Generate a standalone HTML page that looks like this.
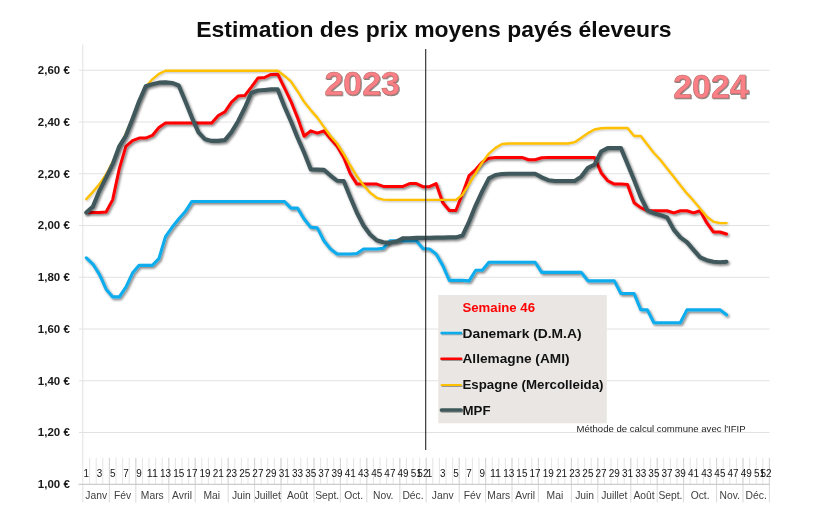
<!DOCTYPE html>
<html lang="fr"><head><meta charset="utf-8"><title>Estimation des prix moyens payés éleveurs</title>
<style>
html,body{margin:0;padding:0;background:#fff;}
body{width:820px;height:528px;overflow:hidden;font-family:"Liberation Sans",sans-serif;}
svg{display:block}
text{font-family:"Liberation Sans",sans-serif;}
.yl{font-size:11.3px;font-weight:bold;fill:#1a1a1a;text-anchor:end}
.wk{font-size:10.1px;fill:#161616;text-anchor:middle}
.mo{font-size:10.3px;fill:#404040;text-anchor:middle}
.lg{font-size:13px;font-weight:bold;fill:#111}
</style></head><body>
<svg width="820" height="528" viewBox="0 0 820 528">
<defs>
<filter id="sh" x="-5%" y="-5%" width="110%" height="115%"><feDropShadow dx="1.4" dy="1.6" stdDeviation="1.1" flood-color="#000" flood-opacity="0.5"/></filter>
<filter id="sh3" filterUnits="userSpaceOnUse" x="430" y="290" width="60" height="140"><feDropShadow dx="0.8" dy="1.0" stdDeviation="0.7" flood-color="#000" flood-opacity="0.35"/></filter>
<filter id="sh2" x="-5%" y="-5%" width="110%" height="115%"><feDropShadow dx="0.8" dy="1.0" stdDeviation="0.8" flood-color="#000" flood-opacity="0.25"/></filter>
<filter id="tsh" x="-10%" y="-10%" width="120%" height="130%"><feDropShadow dx="0.8" dy="1.0" stdDeviation="0.7" flood-color="#000" flood-opacity="0.55"/></filter>
</defs>
<rect width="820" height="528" fill="#fff"/>

<g stroke="#e2e2e2" stroke-width="1" fill="none">
<line x1="79" y1="484.25" x2="769.5" y2="484.25"/>
<line x1="79" y1="432.50" x2="769.5" y2="432.50"/>
<line x1="79" y1="380.75" x2="769.5" y2="380.75"/>
<line x1="79" y1="329.00" x2="769.5" y2="329.00"/>
<line x1="79" y1="277.25" x2="769.5" y2="277.25"/>
<line x1="79" y1="225.50" x2="769.5" y2="225.50"/>
<line x1="79" y1="173.75" x2="769.5" y2="173.75"/>
<line x1="79" y1="122.00" x2="769.5" y2="122.00"/>
<line x1="79" y1="70.25" x2="769.5" y2="70.25"/>
<line x1="82.8" y1="44.5" x2="82.8" y2="502.5"/>
</g>
<g stroke="#dadada" stroke-width="0.7">
<line x1="89.60" y1="457.8" x2="89.60" y2="484"/>
<line x1="96.20" y1="457.8" x2="96.20" y2="484"/>
<line x1="102.80" y1="457.8" x2="102.80" y2="484"/>
<line x1="109.40" y1="457.8" x2="109.40" y2="484"/>
<line x1="116.00" y1="457.8" x2="116.00" y2="484"/>
<line x1="122.60" y1="457.8" x2="122.60" y2="484"/>
<line x1="129.20" y1="457.8" x2="129.20" y2="484"/>
<line x1="135.80" y1="457.8" x2="135.80" y2="484"/>
<line x1="142.40" y1="457.8" x2="142.40" y2="484"/>
<line x1="149.00" y1="457.8" x2="149.00" y2="484"/>
<line x1="155.60" y1="457.8" x2="155.60" y2="484"/>
<line x1="162.20" y1="457.8" x2="162.20" y2="484"/>
<line x1="168.80" y1="457.8" x2="168.80" y2="484"/>
<line x1="175.40" y1="457.8" x2="175.40" y2="484"/>
<line x1="182.00" y1="457.8" x2="182.00" y2="484"/>
<line x1="188.60" y1="457.8" x2="188.60" y2="484"/>
<line x1="195.20" y1="457.8" x2="195.20" y2="484"/>
<line x1="201.80" y1="457.8" x2="201.80" y2="484"/>
<line x1="208.40" y1="457.8" x2="208.40" y2="484"/>
<line x1="215.00" y1="457.8" x2="215.00" y2="484"/>
<line x1="221.60" y1="457.8" x2="221.60" y2="484"/>
<line x1="228.20" y1="457.8" x2="228.20" y2="484"/>
<line x1="234.80" y1="457.8" x2="234.80" y2="484"/>
<line x1="241.40" y1="457.8" x2="241.40" y2="484"/>
<line x1="248.00" y1="457.8" x2="248.00" y2="484"/>
<line x1="254.60" y1="457.8" x2="254.60" y2="484"/>
<line x1="261.20" y1="457.8" x2="261.20" y2="484"/>
<line x1="267.80" y1="457.8" x2="267.80" y2="484"/>
<line x1="274.40" y1="457.8" x2="274.40" y2="484"/>
<line x1="281.00" y1="457.8" x2="281.00" y2="484"/>
<line x1="287.60" y1="457.8" x2="287.60" y2="484"/>
<line x1="294.20" y1="457.8" x2="294.20" y2="484"/>
<line x1="300.80" y1="457.8" x2="300.80" y2="484"/>
<line x1="307.40" y1="457.8" x2="307.40" y2="484"/>
<line x1="314.00" y1="457.8" x2="314.00" y2="484"/>
<line x1="320.60" y1="457.8" x2="320.60" y2="484"/>
<line x1="327.20" y1="457.8" x2="327.20" y2="484"/>
<line x1="333.80" y1="457.8" x2="333.80" y2="484"/>
<line x1="340.40" y1="457.8" x2="340.40" y2="484"/>
<line x1="347.00" y1="457.8" x2="347.00" y2="484"/>
<line x1="353.60" y1="457.8" x2="353.60" y2="484"/>
<line x1="360.20" y1="457.8" x2="360.20" y2="484"/>
<line x1="366.80" y1="457.8" x2="366.80" y2="484"/>
<line x1="373.40" y1="457.8" x2="373.40" y2="484"/>
<line x1="380.00" y1="457.8" x2="380.00" y2="484"/>
<line x1="386.60" y1="457.8" x2="386.60" y2="484"/>
<line x1="393.20" y1="457.8" x2="393.20" y2="484"/>
<line x1="399.80" y1="457.8" x2="399.80" y2="484"/>
<line x1="406.40" y1="457.8" x2="406.40" y2="484"/>
<line x1="413.00" y1="457.8" x2="413.00" y2="484"/>
<line x1="419.60" y1="457.8" x2="419.60" y2="484"/>
<line x1="426.20" y1="457.8" x2="426.20" y2="484"/>
<line x1="432.80" y1="457.8" x2="432.80" y2="484"/>
<line x1="439.40" y1="457.8" x2="439.40" y2="484"/>
<line x1="446.00" y1="457.8" x2="446.00" y2="484"/>
<line x1="452.60" y1="457.8" x2="452.60" y2="484"/>
<line x1="459.20" y1="457.8" x2="459.20" y2="484"/>
<line x1="465.80" y1="457.8" x2="465.80" y2="484"/>
<line x1="472.40" y1="457.8" x2="472.40" y2="484"/>
<line x1="479.00" y1="457.8" x2="479.00" y2="484"/>
<line x1="485.60" y1="457.8" x2="485.60" y2="484"/>
<line x1="492.20" y1="457.8" x2="492.20" y2="484"/>
<line x1="498.80" y1="457.8" x2="498.80" y2="484"/>
<line x1="505.40" y1="457.8" x2="505.40" y2="484"/>
<line x1="512.00" y1="457.8" x2="512.00" y2="484"/>
<line x1="518.60" y1="457.8" x2="518.60" y2="484"/>
<line x1="525.20" y1="457.8" x2="525.20" y2="484"/>
<line x1="531.80" y1="457.8" x2="531.80" y2="484"/>
<line x1="538.40" y1="457.8" x2="538.40" y2="484"/>
<line x1="545.00" y1="457.8" x2="545.00" y2="484"/>
<line x1="551.60" y1="457.8" x2="551.60" y2="484"/>
<line x1="558.20" y1="457.8" x2="558.20" y2="484"/>
<line x1="564.80" y1="457.8" x2="564.80" y2="484"/>
<line x1="571.40" y1="457.8" x2="571.40" y2="484"/>
<line x1="578.00" y1="457.8" x2="578.00" y2="484"/>
<line x1="584.60" y1="457.8" x2="584.60" y2="484"/>
<line x1="591.20" y1="457.8" x2="591.20" y2="484"/>
<line x1="597.80" y1="457.8" x2="597.80" y2="484"/>
<line x1="604.40" y1="457.8" x2="604.40" y2="484"/>
<line x1="611.00" y1="457.8" x2="611.00" y2="484"/>
<line x1="617.60" y1="457.8" x2="617.60" y2="484"/>
<line x1="624.20" y1="457.8" x2="624.20" y2="484"/>
<line x1="630.80" y1="457.8" x2="630.80" y2="484"/>
<line x1="637.40" y1="457.8" x2="637.40" y2="484"/>
<line x1="644.00" y1="457.8" x2="644.00" y2="484"/>
<line x1="650.60" y1="457.8" x2="650.60" y2="484"/>
<line x1="657.20" y1="457.8" x2="657.20" y2="484"/>
<line x1="663.80" y1="457.8" x2="663.80" y2="484"/>
<line x1="670.40" y1="457.8" x2="670.40" y2="484"/>
<line x1="677.00" y1="457.8" x2="677.00" y2="484"/>
<line x1="683.60" y1="457.8" x2="683.60" y2="484"/>
<line x1="690.20" y1="457.8" x2="690.20" y2="484"/>
<line x1="696.80" y1="457.8" x2="696.80" y2="484"/>
<line x1="703.40" y1="457.8" x2="703.40" y2="484"/>
<line x1="710.00" y1="457.8" x2="710.00" y2="484"/>
<line x1="716.60" y1="457.8" x2="716.60" y2="484"/>
<line x1="723.20" y1="457.8" x2="723.20" y2="484"/>
<line x1="729.80" y1="457.8" x2="729.80" y2="484"/>
<line x1="736.40" y1="457.8" x2="736.40" y2="484"/>
<line x1="743.00" y1="457.8" x2="743.00" y2="484"/>
<line x1="749.60" y1="457.8" x2="749.60" y2="484"/>
<line x1="756.20" y1="457.8" x2="756.20" y2="484"/>
<line x1="762.80" y1="457.8" x2="762.80" y2="484"/>
<line x1="769.40" y1="457.8" x2="769.40" y2="484"/>
</g>
<g stroke="#cfcfcf" stroke-width="0.8">
<line x1="109.40" y1="457.8" x2="109.40" y2="502.5"/>
<line x1="135.80" y1="457.8" x2="135.80" y2="502.5"/>
<line x1="168.80" y1="457.8" x2="168.80" y2="502.5"/>
<line x1="195.20" y1="457.8" x2="195.20" y2="502.5"/>
<line x1="228.20" y1="457.8" x2="228.20" y2="502.5"/>
<line x1="254.60" y1="457.8" x2="254.60" y2="502.5"/>
<line x1="281.00" y1="457.8" x2="281.00" y2="502.5"/>
<line x1="314.00" y1="457.8" x2="314.00" y2="502.5"/>
<line x1="340.40" y1="457.8" x2="340.40" y2="502.5"/>
<line x1="366.80" y1="457.8" x2="366.80" y2="502.5"/>
<line x1="399.80" y1="457.8" x2="399.80" y2="502.5"/>
<line x1="426.20" y1="457.8" x2="426.20" y2="502.5"/>
<line x1="459.20" y1="457.8" x2="459.20" y2="502.5"/>
<line x1="485.60" y1="457.8" x2="485.60" y2="502.5"/>
<line x1="512.00" y1="457.8" x2="512.00" y2="502.5"/>
<line x1="538.40" y1="457.8" x2="538.40" y2="502.5"/>
<line x1="571.40" y1="457.8" x2="571.40" y2="502.5"/>
<line x1="597.80" y1="457.8" x2="597.80" y2="502.5"/>
<line x1="630.80" y1="457.8" x2="630.80" y2="502.5"/>
<line x1="657.20" y1="457.8" x2="657.20" y2="502.5"/>
<line x1="683.60" y1="457.8" x2="683.60" y2="502.5"/>
<line x1="716.60" y1="457.8" x2="716.60" y2="502.5"/>
<line x1="743.00" y1="457.8" x2="743.00" y2="502.5"/>
<line x1="769.40" y1="457.8" x2="769.40" y2="502.5"/>
</g>
<line x1="78.5" y1="484.4" x2="769.5" y2="484.4" stroke="#c4c4c4" stroke-width="0.9"/>
<text class="mo" x="96.20" y="499.3">Janv</text>
<text class="mo" x="122.60" y="499.3">Fév</text>
<text class="mo" x="152.30" y="499.3">Mars</text>
<text class="mo" x="182.00" y="499.3">Avril</text>
<text class="mo" x="211.70" y="499.3">Mai</text>
<text class="mo" x="241.40" y="499.3">Juin</text>
<text class="mo" x="267.80" y="499.3">Juillet</text>
<text class="mo" x="297.50" y="499.3">Août</text>
<text class="mo" x="327.20" y="499.3">Sept.</text>
<text class="mo" x="353.60" y="499.3">Oct.</text>
<text class="mo" x="383.30" y="499.3">Nov.</text>
<text class="mo" x="413.00" y="499.3">Déc.</text>
<text class="mo" x="442.70" y="499.3">Janv</text>
<text class="mo" x="472.40" y="499.3">Fév</text>
<text class="mo" x="498.80" y="499.3">Mars</text>
<text class="mo" x="525.20" y="499.3">Avril</text>
<text class="mo" x="554.90" y="499.3">Mai</text>
<text class="mo" x="584.60" y="499.3">Juin</text>
<text class="mo" x="614.30" y="499.3">Juillet</text>
<text class="mo" x="644.00" y="499.3">Août</text>
<text class="mo" x="670.40" y="499.3">Sept.</text>
<text class="mo" x="700.10" y="499.3">Oct.</text>
<text class="mo" x="729.80" y="499.3">Nov.</text>
<text class="mo" x="756.20" y="499.3">Déc.</text>
<text class="wk" x="86.30" y="476.7" textLength="5.5" lengthAdjust="spacingAndGlyphs">1</text>
<text class="wk" x="99.50" y="476.7" textLength="5.5" lengthAdjust="spacingAndGlyphs">3</text>
<text class="wk" x="112.70" y="476.7" textLength="5.5" lengthAdjust="spacingAndGlyphs">5</text>
<text class="wk" x="125.90" y="476.7" textLength="5.5" lengthAdjust="spacingAndGlyphs">7</text>
<text class="wk" x="139.10" y="476.7" textLength="5.5" lengthAdjust="spacingAndGlyphs">9</text>
<text class="wk" x="152.30" y="476.7" textLength="11.1" lengthAdjust="spacingAndGlyphs">11</text>
<text class="wk" x="165.50" y="476.7" textLength="11.1" lengthAdjust="spacingAndGlyphs">13</text>
<text class="wk" x="178.70" y="476.7" textLength="11.1" lengthAdjust="spacingAndGlyphs">15</text>
<text class="wk" x="191.90" y="476.7" textLength="11.1" lengthAdjust="spacingAndGlyphs">17</text>
<text class="wk" x="205.10" y="476.7" textLength="11.1" lengthAdjust="spacingAndGlyphs">19</text>
<text class="wk" x="218.30" y="476.7" textLength="11.1" lengthAdjust="spacingAndGlyphs">21</text>
<text class="wk" x="231.50" y="476.7" textLength="11.1" lengthAdjust="spacingAndGlyphs">23</text>
<text class="wk" x="244.70" y="476.7" textLength="11.1" lengthAdjust="spacingAndGlyphs">25</text>
<text class="wk" x="257.90" y="476.7" textLength="11.1" lengthAdjust="spacingAndGlyphs">27</text>
<text class="wk" x="271.10" y="476.7" textLength="11.1" lengthAdjust="spacingAndGlyphs">29</text>
<text class="wk" x="284.30" y="476.7" textLength="11.1" lengthAdjust="spacingAndGlyphs">31</text>
<text class="wk" x="297.50" y="476.7" textLength="11.1" lengthAdjust="spacingAndGlyphs">33</text>
<text class="wk" x="310.70" y="476.7" textLength="11.1" lengthAdjust="spacingAndGlyphs">35</text>
<text class="wk" x="323.90" y="476.7" textLength="11.1" lengthAdjust="spacingAndGlyphs">37</text>
<text class="wk" x="337.10" y="476.7" textLength="11.1" lengthAdjust="spacingAndGlyphs">39</text>
<text class="wk" x="350.30" y="476.7" textLength="11.1" lengthAdjust="spacingAndGlyphs">41</text>
<text class="wk" x="363.50" y="476.7" textLength="11.1" lengthAdjust="spacingAndGlyphs">43</text>
<text class="wk" x="376.70" y="476.7" textLength="11.1" lengthAdjust="spacingAndGlyphs">45</text>
<text class="wk" x="389.90" y="476.7" textLength="11.1" lengthAdjust="spacingAndGlyphs">47</text>
<text class="wk" x="403.10" y="476.7" textLength="11.1" lengthAdjust="spacingAndGlyphs">49</text>
<text class="wk" x="416.30" y="476.7" textLength="11.1" lengthAdjust="spacingAndGlyphs">51</text>
<text class="wk" x="422.90" y="476.7" textLength="11.1" lengthAdjust="spacingAndGlyphs">52</text>
<text class="wk" x="429.50" y="476.7" textLength="5.5" lengthAdjust="spacingAndGlyphs">1</text>
<text class="wk" x="442.70" y="476.7" textLength="5.5" lengthAdjust="spacingAndGlyphs">3</text>
<text class="wk" x="455.90" y="476.7" textLength="5.5" lengthAdjust="spacingAndGlyphs">5</text>
<text class="wk" x="469.10" y="476.7" textLength="5.5" lengthAdjust="spacingAndGlyphs">7</text>
<text class="wk" x="482.30" y="476.7" textLength="5.5" lengthAdjust="spacingAndGlyphs">9</text>
<text class="wk" x="495.50" y="476.7" textLength="11.1" lengthAdjust="spacingAndGlyphs">11</text>
<text class="wk" x="508.70" y="476.7" textLength="11.1" lengthAdjust="spacingAndGlyphs">13</text>
<text class="wk" x="521.90" y="476.7" textLength="11.1" lengthAdjust="spacingAndGlyphs">15</text>
<text class="wk" x="535.10" y="476.7" textLength="11.1" lengthAdjust="spacingAndGlyphs">17</text>
<text class="wk" x="548.30" y="476.7" textLength="11.1" lengthAdjust="spacingAndGlyphs">19</text>
<text class="wk" x="561.50" y="476.7" textLength="11.1" lengthAdjust="spacingAndGlyphs">21</text>
<text class="wk" x="574.70" y="476.7" textLength="11.1" lengthAdjust="spacingAndGlyphs">23</text>
<text class="wk" x="587.90" y="476.7" textLength="11.1" lengthAdjust="spacingAndGlyphs">25</text>
<text class="wk" x="601.10" y="476.7" textLength="11.1" lengthAdjust="spacingAndGlyphs">27</text>
<text class="wk" x="614.30" y="476.7" textLength="11.1" lengthAdjust="spacingAndGlyphs">29</text>
<text class="wk" x="627.50" y="476.7" textLength="11.1" lengthAdjust="spacingAndGlyphs">31</text>
<text class="wk" x="640.70" y="476.7" textLength="11.1" lengthAdjust="spacingAndGlyphs">33</text>
<text class="wk" x="653.90" y="476.7" textLength="11.1" lengthAdjust="spacingAndGlyphs">35</text>
<text class="wk" x="667.10" y="476.7" textLength="11.1" lengthAdjust="spacingAndGlyphs">37</text>
<text class="wk" x="680.30" y="476.7" textLength="11.1" lengthAdjust="spacingAndGlyphs">39</text>
<text class="wk" x="693.50" y="476.7" textLength="11.1" lengthAdjust="spacingAndGlyphs">41</text>
<text class="wk" x="706.70" y="476.7" textLength="11.1" lengthAdjust="spacingAndGlyphs">43</text>
<text class="wk" x="719.90" y="476.7" textLength="11.1" lengthAdjust="spacingAndGlyphs">45</text>
<text class="wk" x="733.10" y="476.7" textLength="11.1" lengthAdjust="spacingAndGlyphs">47</text>
<text class="wk" x="746.30" y="476.7" textLength="11.1" lengthAdjust="spacingAndGlyphs">49</text>
<text class="wk" x="759.50" y="476.7" textLength="11.1" lengthAdjust="spacingAndGlyphs">51</text>
<text class="wk" x="766.10" y="476.7" textLength="11.1" lengthAdjust="spacingAndGlyphs">52</text>
<text class="yl" x="69.8" y="488.15" textLength="32" lengthAdjust="spacingAndGlyphs">1,00 €</text>
<text class="yl" x="69.8" y="436.40" textLength="32" lengthAdjust="spacingAndGlyphs">1,20 €</text>
<text class="yl" x="69.8" y="384.65" textLength="32" lengthAdjust="spacingAndGlyphs">1,40 €</text>
<text class="yl" x="69.8" y="332.90" textLength="32" lengthAdjust="spacingAndGlyphs">1,60 €</text>
<text class="yl" x="69.8" y="281.15" textLength="32" lengthAdjust="spacingAndGlyphs">1,80 €</text>
<text class="yl" x="69.8" y="229.40" textLength="32" lengthAdjust="spacingAndGlyphs">2,00 €</text>
<text class="yl" x="69.8" y="177.65" textLength="32" lengthAdjust="spacingAndGlyphs">2,20 €</text>
<text class="yl" x="69.8" y="125.90" textLength="32" lengthAdjust="spacingAndGlyphs">2,40 €</text>
<text class="yl" x="69.8" y="74.15" textLength="32" lengthAdjust="spacingAndGlyphs">2,60 €</text>
<rect x="438.3" y="295" width="168.5" height="128.3" fill="#e9e6e3"/>
<g fill="none" stroke-linejoin="round" stroke-linecap="round">
<path filter="url(#sh)" stroke="#10acec" stroke-width="3.1" d="M86.30 257.84 L92.90 264.05 L99.50 274.66 L106.10 289.15 L112.70 296.91 L119.30 296.91 L125.90 287.08 L132.50 273.11 L139.10 265.35 L145.70 265.35 L152.30 265.35 L158.90 258.62 L165.50 236.63 L172.10 227.31 L178.70 219.03 L185.30 211.53 L191.90 201.44 L198.50 201.44 L205.10 201.44 L211.70 201.44 L218.30 201.44 L224.90 201.44 L231.50 201.44 L238.10 201.44 L244.70 201.44 L251.30 201.44 L257.90 201.44 L264.50 201.44 L271.10 201.44 L277.70 201.44 L284.30 201.44 L290.90 208.16 L297.50 208.16 L304.10 219.03 L310.70 227.31 L317.30 227.83 L323.90 240.77 L330.50 249.05 L337.10 253.96 L343.70 253.96 L350.30 253.96 L356.90 253.45 L363.50 249.05 L370.10 249.05 L376.70 249.05 L383.30 248.27 L389.90 240.77 L396.50 240.77 L403.10 240.77 L409.70 240.77 L416.30 240.77 L422.90 248.53 L429.50 249.05 L436.10 253.96 L442.70 265.35 L449.30 280.36 L455.90 280.36 L462.50 280.36 L469.10 280.87 L475.70 270.26 L482.30 270.26 L488.90 262.24 L495.50 262.24 L502.10 262.24 L508.70 262.24 L515.30 262.24 L521.90 262.24 L528.50 262.24 L535.10 262.24 L541.70 272.33 L548.30 272.33 L554.90 272.33 L561.50 272.33 L568.10 272.33 L574.70 272.33 L581.30 272.33 L587.90 280.87 L594.50 280.87 L601.10 280.87 L607.70 280.87 L614.30 280.87 L620.90 293.55 L627.50 293.55 L634.10 293.55 L640.70 309.59 L647.30 309.85 L653.90 322.79 L660.50 322.79 L667.10 322.79 L673.70 322.79 L680.30 322.79 L686.90 309.85 L693.50 309.85 L700.10 309.85 L706.70 309.85 L713.30 309.85 L719.90 309.85 L726.50 314.77"/>
<path filter="url(#sh)" stroke="#ff0000" stroke-width="3" d="M86.30 212.56 L92.90 212.56 L99.50 212.56 L106.10 212.05 L112.70 199.62 L119.30 168.57 L125.90 146.32 L132.50 140.63 L139.10 138.04 L145.70 138.04 L152.30 135.46 L158.90 127.43 L165.50 123.04 L172.10 123.04 L178.70 123.04 L185.30 123.04 L191.90 123.04 L198.50 123.04 L205.10 123.04 L211.70 123.04 L218.30 115.53 L224.90 111.91 L231.50 102.08 L238.10 96.12 L244.70 95.61 L251.30 87.07 L257.90 78.01 L264.50 77.50 L271.10 74.39 L277.70 74.13 L284.30 87.59 L290.90 101.30 L297.50 117.60 L304.10 136.23 L310.70 130.80 L317.30 133.13 L323.90 130.80 L330.50 138.82 L337.10 146.32 L343.70 157.45 L350.30 173.75 L356.90 184.10 L363.50 184.10 L370.10 184.10 L376.70 184.10 L383.30 186.43 L389.90 186.43 L396.50 186.43 L403.10 186.43 L409.70 183.58 L416.30 183.58 L422.90 186.69 L429.50 186.69 L436.10 183.58 L442.70 202.47 L449.30 210.49 L455.90 210.49 L462.50 193.67 L469.10 175.56 L475.70 169.61 L482.30 162.11 L488.90 158.23 L495.50 157.45 L502.10 157.45 L508.70 157.45 L515.30 157.45 L521.90 157.45 L528.50 159.78 L535.10 159.78 L541.70 157.71 L548.30 157.45 L554.90 157.45 L561.50 157.45 L568.10 157.45 L574.70 157.45 L581.30 157.45 L587.90 157.45 L594.50 157.45 L601.10 172.71 L607.70 180.74 L614.30 184.10 L620.90 184.10 L627.50 184.62 L634.10 202.73 L640.70 207.65 L647.30 210.75 L653.90 210.75 L660.50 210.75 L667.10 210.75 L673.70 212.82 L680.30 210.75 L686.90 210.75 L693.50 212.82 L700.10 210.75 L706.70 222.65 L713.30 231.97 L719.90 231.97 L726.50 234.04"/>
<path filter="url(#sh2)" stroke="#ffc000" stroke-width="2.4" d="M86.30 199.11 L92.90 191.86 L99.50 184.10 L106.10 174.53 L112.70 162.11 L119.30 147.88 L125.90 133.39 L132.50 118.12 L139.10 101.30 L145.70 87.07 L152.30 79.31 L158.90 73.87 L165.50 70.77 L172.10 70.77 L178.70 70.77 L185.30 70.77 L191.90 70.77 L198.50 70.77 L205.10 70.77 L211.70 70.77 L218.30 70.77 L224.90 70.77 L231.50 70.77 L238.10 70.77 L244.70 70.77 L251.30 70.77 L257.90 70.77 L264.50 70.77 L271.10 70.77 L277.70 70.77 L284.30 75.68 L290.90 81.38 L297.50 91.21 L304.10 101.82 L310.70 110.10 L317.30 117.60 L323.90 126.92 L330.50 135.97 L337.10 143.48 L343.70 153.83 L350.30 165.47 L356.90 176.34 L363.50 185.13 L370.10 192.64 L376.70 197.81 L383.30 199.62 L389.90 199.88 L396.50 199.88 L403.10 199.88 L409.70 199.88 L416.30 199.88 L422.90 199.88 L429.50 199.88 L436.10 199.88 L442.70 199.88 L449.30 199.88 L455.90 199.88 L462.50 194.71 L469.10 184.10 L475.70 173.23 L482.30 162.36 L488.90 153.57 L495.50 147.88 L502.10 143.99 L508.70 143.48 L515.30 143.48 L521.90 143.48 L528.50 143.48 L535.10 143.48 L541.70 143.48 L548.30 143.48 L554.90 143.48 L561.50 143.48 L568.10 143.48 L574.70 142.18 L581.30 137.78 L587.90 133.13 L594.50 129.50 L601.10 128.21 L607.70 127.95 L614.30 127.95 L620.90 127.95 L627.50 127.95 L634.10 135.97 L640.70 135.97 L647.30 144.51 L653.90 153.05 L660.50 160.04 L667.10 168.57 L673.70 176.85 L680.30 185.13 L686.90 193.41 L693.50 200.66 L700.10 208.42 L706.70 216.44 L713.30 221.62 L719.90 223.17 L726.50 223.17"/>
<path filter="url(#sh)" stroke="#3f585b" stroke-width="4.1" d="M86.30 212.56 L92.90 206.61 L99.50 190.57 L106.10 177.63 L112.70 164.18 L119.30 146.32 L125.90 135.71 L132.50 118.90 L139.10 101.30 L145.70 86.29 L152.30 84.22 L158.90 82.67 L165.50 82.41 L172.10 82.93 L178.70 85.52 L185.30 101.30 L191.90 117.60 L198.50 132.35 L205.10 139.34 L211.70 140.89 L218.30 140.89 L224.90 140.11 L231.50 132.09 L238.10 121.22 L244.70 108.03 L251.30 93.02 L257.90 90.43 L264.50 89.92 L271.10 89.40 L277.70 89.40 L284.30 106.22 L290.90 121.22 L297.50 137.53 L304.10 152.53 L310.70 169.35 L317.30 169.61 L323.90 169.87 L330.50 175.56 L337.10 180.74 L343.70 180.99 L350.30 197.30 L356.90 212.82 L363.50 225.50 L370.10 234.56 L376.70 240.25 L383.30 242.32 L389.90 242.84 L396.50 241.54 L403.10 238.18 L409.70 238.18 L416.30 237.92 L422.90 237.92 L429.50 237.92 L436.10 237.66 L442.70 237.66 L449.30 237.40 L455.90 237.40 L462.50 235.59 L469.10 221.62 L475.70 205.32 L482.30 191.09 L488.90 178.41 L495.50 175.04 L502.10 174.01 L508.70 173.75 L515.30 173.75 L521.90 173.75 L528.50 173.75 L535.10 173.75 L541.70 177.37 L548.30 180.22 L554.90 180.99 L561.50 180.99 L568.10 180.99 L574.70 180.99 L581.30 176.60 L587.90 167.80 L594.50 164.69 L601.10 151.50 L607.70 148.13 L614.30 148.13 L620.90 148.13 L627.50 163.92 L634.10 179.96 L640.70 197.04 L647.30 210.23 L653.90 213.34 L660.50 215.15 L667.10 217.48 L673.70 229.64 L680.30 237.40 L686.90 242.06 L693.50 249.82 L700.10 257.33 L706.70 260.17 L713.30 261.72 L719.90 262.24 L726.50 261.72"/>
</g>
<line x1="425.7" y1="49" x2="425.7" y2="450" stroke="#262626" stroke-width="1.1"/>
<g fill="none" stroke-linecap="round">
<line x1="441.5" y1="333.00" x2="461" y2="333.00" stroke="#10acec" stroke-width="2.4" filter="url(#sh3)"/>
<line x1="441.5" y1="358.75" x2="461" y2="358.75" stroke="#ff0000" stroke-width="2.6" filter="url(#sh3)"/>
<line x1="441.5" y1="385.00" x2="461" y2="385.00" stroke="#ffc000" stroke-width="1.8" filter="url(#sh3)"/>
<line x1="441.5" y1="410.00" x2="461" y2="410.00" stroke="#3f585b" stroke-width="3.7" filter="url(#sh3)"/>
</g>
<text class="lg" x="462.5" y="311.75" style="fill:#ff0000" textLength="72.5" lengthAdjust="spacingAndGlyphs">Semaine 46</text>
<text class="lg" x="462.5" y="337.5" textLength="119" lengthAdjust="spacingAndGlyphs">Danemark (D.M.A)</text>
<text class="lg" x="462.5" y="363.25" textLength="107" lengthAdjust="spacingAndGlyphs">Allemagne (AMI)</text>
<text class="lg" x="462.5" y="388.75" textLength="141" lengthAdjust="spacingAndGlyphs">Espagne (Mercolleida)</text>
<text class="lg" x="462.5" y="415" textLength="28" lengthAdjust="spacingAndGlyphs">MPF</text>
<text x="576.6" y="432" style="font-size:9.6px;fill:#222" textLength="169" lengthAdjust="spacingAndGlyphs">Méthode de calcul commune avec l'IFIP</text>
<text x="324.5" y="95.0" filter="url(#tsh)" style="font-size:33.5px;font-weight:bold;fill:#fb7f86;stroke:#b5685f;stroke-width:0.5" textLength="75.5" lengthAdjust="spacingAndGlyphs">2023</text>
<text x="673.2" y="97.6" filter="url(#tsh)" style="font-size:33.5px;font-weight:bold;fill:#fb7f86;stroke:#b5685f;stroke-width:0.5" textLength="75.5" lengthAdjust="spacingAndGlyphs">2024</text>
<text x="196.3" y="36.6" style="font-size:21.6px;font-weight:bold;fill:#0d0d0d" textLength="475.3" lengthAdjust="spacingAndGlyphs">Estimation des prix moyens payés éleveurs</text>
</svg></body></html>
